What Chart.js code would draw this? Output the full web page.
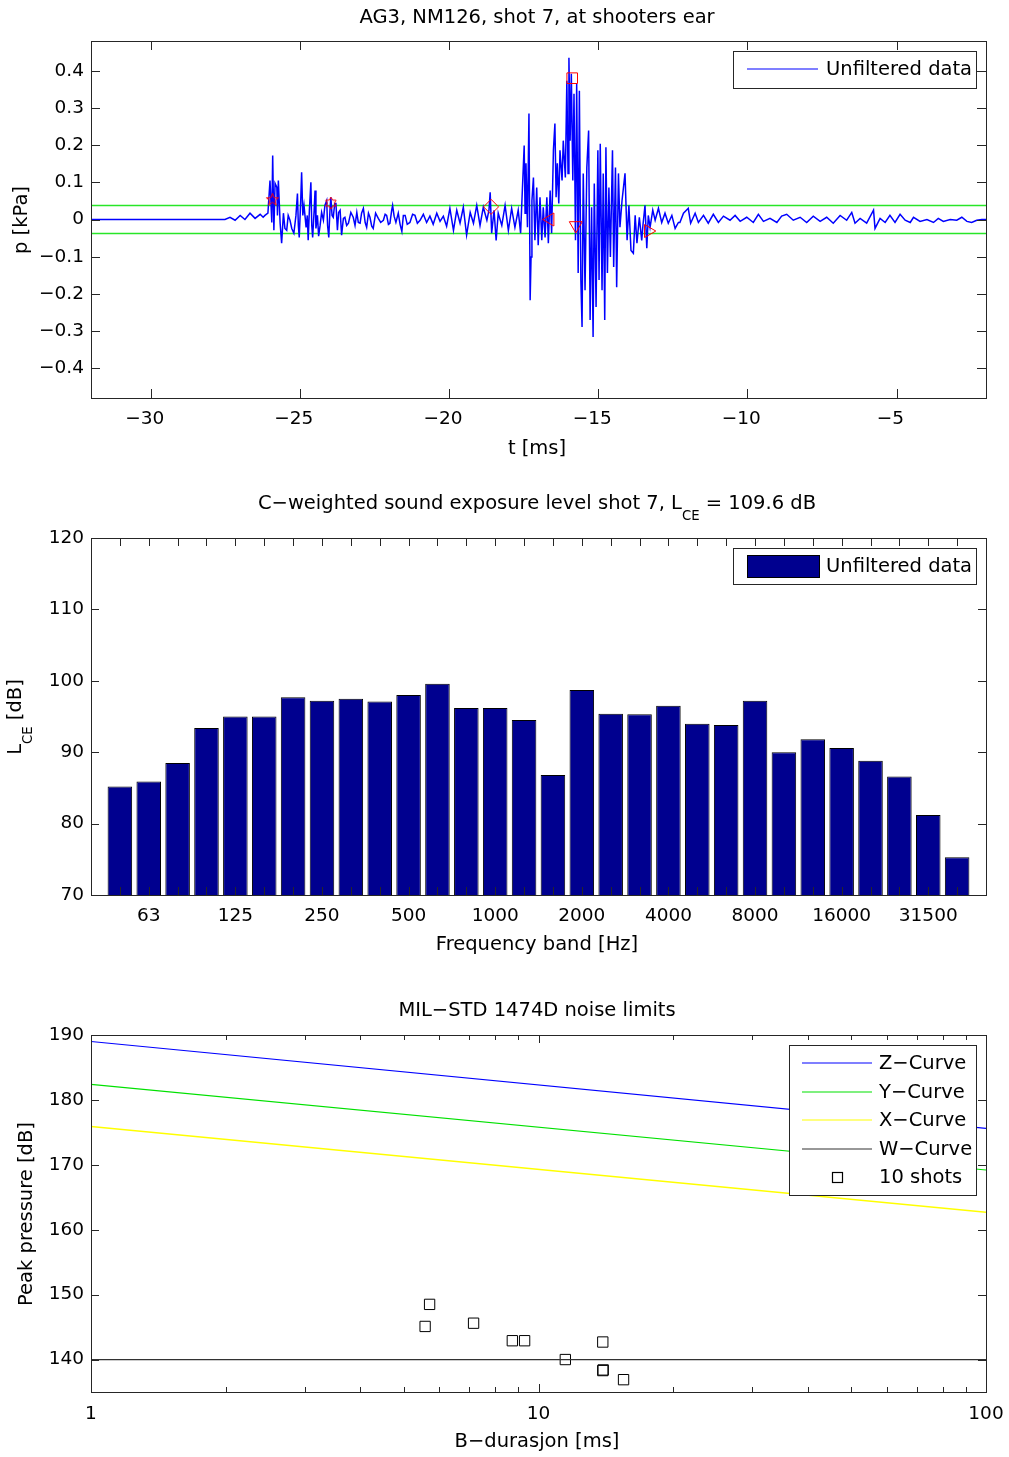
<!DOCTYPE html>
<html>
<head>
<meta charset="utf-8">
<script src="https://cdn.jsdelivr.net/npm/chart.js@4.4.1/dist/chart.umd.min.js"></script>
<style>
  html, body { margin: 0; padding: 0; background: #fff; }
  #page { position: relative; width: 1009px; height: 1457px; }
  #page canvas { position: absolute; left: 0; }
</style>
</head>
<body>
<div id="page">
  <canvas id="wave" width="1009" height="475" style="top:0px"></canvas>
  <canvas id="spectrum" width="1009" height="490" style="top:475px"></canvas>
  <canvas id="limits" width="1009" height="492" style="top:965px"></canvas>
</div>
<script>
// ---------- top panel: pressure at the shooter's ear ----------
const timeMs = [
  -32.00, -27.51, -27.34, -27.17, -27.00, -26.84, -26.67, -26.50, -26.33, -26.23, -26.17, -26.07,
  -26.00, -25.94, -25.91, -25.87, -25.83, -25.77, -25.75, -25.72, -25.66, -25.61, -25.55, -25.50,
  -25.44, -25.39, -25.33, -25.27, -25.20, -25.13, -25.08, -25.05, -25.02, -24.97, -24.94, -24.90,
  -24.86, -24.79, -24.75, -24.72, -24.68, -24.63, -24.60, -24.57, -24.52, -24.49, -24.46, -24.41,
  -24.37, -24.32, -24.27, -24.21, -24.16, -24.10, -24.07, -24.03, -23.99, -23.96, -23.92, -23.88,
  -23.83, -23.79, -23.74, -23.70, -23.65, -23.60, -23.54, -23.49, -23.43, -23.37, -23.29, -23.21,
  -23.15, -23.09, -23.04, -22.98, -22.93, -22.87, -22.81, -22.76, -22.70, -22.65, -22.59, -22.54,
  -22.46, -22.37, -22.29, -22.20, -22.14, -22.09, -22.03, -21.98, -21.92, -21.89, -21.84, -21.78,
  -21.70, -21.64, -21.58, -21.53, -21.47, -21.40, -21.31, -21.22, -21.14, -21.06, -20.97, -20.86,
  -20.75, -20.64, -20.53, -20.41, -20.30, -20.19, -20.08, -19.97, -19.85, -19.74, -19.63, -19.52,
  -19.41, -19.29, -19.18, -19.07, -18.96, -18.85, -18.73, -18.66, -18.62, -18.57, -18.49, -18.42,
  -18.35, -18.23, -18.12, -18.01, -17.90, -17.79, -17.68, -17.60, -17.48, -17.45, -17.42, -17.37,
  -17.32, -17.28, -17.25, -17.22, -17.17, -17.12, -17.06, -17.01, -16.95, -16.89, -16.84, -16.78,
  -16.72, -16.67, -16.61, -16.56, -16.50, -16.45, -16.41, -16.37, -16.32, -16.28, -16.21, -16.17,
  -16.10, -16.05, -16.01, -15.98, -15.94, -15.90, -15.85, -15.81, -15.76, -15.72, -15.67, -15.63,
  -15.58, -15.54, -15.50, -15.44, -15.38, -15.32, -15.27, -15.22, -15.17, -15.13, -15.07, -15.01,
  -14.97, -14.93, -14.87, -14.83, -14.78, -14.74, -14.69, -14.64, -14.59, -14.52, -14.48, -14.42,
  -14.38, -14.32, -14.27, -14.20, -14.10, -14.03, -13.97, -13.90, -13.82, -13.76, -13.70, -13.62,
  -13.54, -13.50, -13.43, -13.37, -13.32, -13.26, -13.17, -13.09, -12.98, -12.87, -12.76, -12.65,
  -12.53, -12.42, -12.31, -12.26, -12.14, -11.98, -11.90, -11.75, -11.64, -11.47, -11.31, -11.14,
  -10.97, -10.80, -10.58, -10.41, -10.24, -10.02, -9.80, -9.63, -9.46, -9.24, -9.01, -8.85,
  -8.68, -8.46, -8.23, -8.01, -7.79, -7.56, -7.34, -7.12, -6.89, -6.67, -6.50, -6.39,
  -6.22, -6.00, -5.77, -5.72, -5.55, -5.38, -5.22, -5.05, -4.88, -4.71, -4.54, -4.43,
  -4.21, -3.98, -3.76, -3.60, -3.43, -3.20, -2.98, -2.81, -2.64, -2.48, -2.31, -2.14, -2.00
]
const pressureKPa = [
  0, 0, 0.006, -0.002, 0.011, 0, 0.017, 0.003, 0.014, 0.006, 0.011, 0.017,
  0.105, -0.008, 0.172, -0.029, 0.097, 0.086, 0.011, 0.105, -0.010, -0.064, 0.017, -0.024,
  -0.029, 0.011, -0.002, -0.024, -0.037, 0.011, 0.070, -0.016, -0.048, 0.051, 0.127, 0.011,
  0.038, -0.021, 0.011, -0.056, 0.025, 0.100, -0.016, -0.048, 0.025, 0.078, -0.024, 0.011,
  -0.045, -0.016, 0.019, -0.002, 0.038, 0.051, -0.016, -0.048, 0.025, 0.060, 0.011, 0.006,
  0.043, 0.043, -0.029, 0.019, 0.025, -0.042, 0.003, 0.006, -0.016, -0.010, 0.019, 0.006,
  -0.016, 0.019, -0.008, -0.010, 0.017, 0.030, -0.008, -0.021, 0.017, 0.006, -0.018, -0.024,
  0.017, 0.003, -0.008, -0.002, 0.014, 0.011, -0.013, -0.010, 0.025, 0.038, 0.009, -0.008,
  0.017, -0.013, -0.032, 0.011, 0.011, -0.013, -0.008, 0.014, 0.011, -0.010, -0.002, 0.014,
  -0.008, 0.009, -0.013, 0.017, -0.005, 0.009, -0.018, 0.030, -0.029, 0.025, -0.010, 0.033,
  -0.042, 0.019, -0.010, 0.038, -0.016, 0.033, -0.002, 0.025, 0.073, -0.037, 0.025, -0.056,
  0.017, -0.016, 0.038, -0.029, 0.030, -0.021, 0.025, -0.037, 0.199, 0.017, 0.151, -0.021,
  0.285, -0.217, -0.101, 0.051, 0.113, -0.056, 0.086, -0.069, 0.060, -0.056, 0.033, -0.048,
  0.060, -0.064, 0.078, -0.037, 0.186, 0.258, 0.060, 0.151, 0.043, 0.186, 0.105, 0.212,
  0.113, 0.373, 0.124, 0.435, 0.212, 0.392, 0.105, 0.338, -0.056, 0.365, -0.144, 0.346,
  -0.163, -0.289, 0.124, -0.190, 0.140, 0.239, -0.270, 0.033, -0.316, 0.097, -0.235, 0.186,
  -0.163, 0.204, -0.190, 0.124, -0.270, 0.194, -0.144, 0.086, -0.101, 0.186, -0.128, 0.140,
  -0.182, 0.124, -0.021, 0.051, 0.124, -0.056, 0.038, -0.083, -0.091, 0.011, -0.064, 0.006,
  -0.056, -0.016, 0.038, -0.077, 0.011, -0.021, 0.025, -0.002, 0.030, -0.008, 0.017, -0.010,
  0.011, -0.024, -0.008, -0.008, 0.017, 0.030, -0.010, 0.017, -0.008, 0.011, -0.010, 0.014,
  -0.008, 0.009, -0.002, 0.011, -0.005, 0.006, -0.008, 0.014, -0.005, 0.003, -0.008, 0.009,
  0.014, -0.002, 0.006, -0.008, 0.009, -0.005, 0.006, -0.010, 0.011, -0.002, 0.019, -0.010,
  0.003, -0.010, 0.025, -0.024, 0.003, -0.008, 0.011, -0.008, 0.014, -0.002, -0.008, 0.006,
  -0.005, 0, -0.008, 0.003, -0.005, 0, -0.002, 0.006, -0.005, -0.008, -0.002, 0, 0
]
const thresholdKPa = 0.0375
const timeRange = [-32, -2]
const eventTimes = [-25.92, -23.96, -18.59, -16.61, -15.75, -15.87, -13.32]
const eventValues = [0.053, 0.044, 0.034, 0.0, -0.016, 0.380, -0.031]
const eventShapes = ["pentagram", "hexagram", "rectRot", "triangle", "triangle", "rect", "triangle"]
const eventRotation = [0, 0, 0, -90, 180, 0, 90]
const timeTicks = [-30, -25, -20, -15, -10, -5]
const pressureTicks = [-0.4, -0.3, -0.2, -0.1, 0, 0.1, 0.2, 0.3, 0.4]

// ---------- middle panel: third-octave band levels ----------
const bands = ["50", "63", "80", "100", "125", "160", "200", "250", "315", "400",
  "500", "630", "800", "1000", "1250", "1600", "2000", "2500", "3150", "4000",
  "5000", "6300", "8000", "10000", "12500", "16000", "20000", "25000", "31500", "40000"]
const bandLevels = [85.2, 85.9, 88.5, 93.4, 95.0, 95.0, 97.7, 97.2, 97.5, 97.1,
  98.0, 99.6, 96.2, 96.2, 94.5, 86.8, 98.7, 95.4, 95.3, 96.5,
  94.0, 93.8, 97.2, 90.0, 91.8, 90.6, 88.8, 86.6, 81.2, 75.3]
const bandLabelsShown = ["63", "125", "250", "500", "1000", "2000", "4000", "8000", "16000", "31500"]
const levelTicks = [70, 80, 90, 100, 110, 120]

// ---------- bottom panel: MIL-STD 1474D limits ----------
const durationRange = [1, 100]
const zCurve = [189.0, 175.6]
const yCurve = [182.4, 169.2]
const xCurve = [175.9, 162.7]
const wCurve = [140, 140]
const shotDurations = [5.71, 5.58, 7.16, 8.74, 9.31, 11.48, 13.92, 13.92, 13.95, 15.49]
const shotPeaks = [148.5, 145.1, 145.6, 142.9, 142.9, 140.0, 142.7, 138.3, 138.4, 136.9]
const durationTicks = [1, 2, 3, 4, 5, 6, 7, 8, 9, 10, 20, 30, 40, 50, 60, 70, 80, 90, 100]
const durationLabels = [1, 10, 100]
const peakTicks = [140, 150, 160, 170, 180, 190]

// ---------- shared look ----------
const FONT = "'DejaVu Sans', sans-serif"
const TICK_SIZE = 18.5
const TEXT_SIZE = 19.5
const FRAME = "#262626"

Chart.defaults.font.family = FONT
Chart.defaults.color = "#000"
Chart.defaults.animation = false

const minusSign = (s) => String(s).replace("-", "\u2212")

// MATLAB style box with inward ticks on all four sides
const axesBox = {
  id: "axesBox",
  afterDatasetsDraw(chart, args, opts) {
    const { ctx, chartArea: a, scales } = chart
    ctx.save()
    ctx.strokeStyle = FRAME
    ctx.lineWidth = 1
    ctx.beginPath()
    scales.x.ticks.forEach((t) => {
      const len = t.major === false ? opts.minorLen : opts.len
      const px = Math.round(scales.x.getPixelForValue(t.value)) + 0.5
      ctx.moveTo(px, a.bottom)
      ctx.lineTo(px, a.bottom - len)
      ctx.moveTo(px, a.top)
      ctx.lineTo(px, a.top + len)
    })
    scales.y.ticks.forEach((t) => {
      const py = Math.round(scales.y.getPixelForValue(t.value)) + 0.5
      ctx.moveTo(a.left, py)
      ctx.lineTo(a.left + opts.len, py)
      ctx.moveTo(a.right, py)
      ctx.lineTo(a.right - opts.len, py)
    })
    ctx.stroke()
    ctx.strokeRect(Math.round(a.left) + 0.5, Math.round(a.top) + 0.5, Math.round(a.width), Math.round(a.height))
    ctx.restore()
  },
}

// titles and axis labels, with optional subscripts
function drawParts(ctx, parts, x, y, rotate) {
  const subSize = TEXT_SIZE * 0.68
  ctx.save()
  ctx.translate(x, y)
  if (rotate) ctx.rotate(-Math.PI / 2)
  let total = 0
  parts.forEach(([t, sub]) => {
    ctx.font = `${sub ? subSize : TEXT_SIZE}px ${FONT}`
    total += ctx.measureText(t).width
  })
  let cx = -total / 2
  ctx.textBaseline = "middle"
  ctx.fillStyle = "#000"
  parts.forEach(([t, sub]) => {
    ctx.font = `${sub ? subSize : TEXT_SIZE}px ${FONT}`
    ctx.fillText(t, cx, sub ? TEXT_SIZE * 0.62 : 0)
    cx += ctx.measureText(t).width
  })
  ctx.restore()
}

const panelText = {
  id: "panelText",
  afterDraw(chart, args, opts) {
    opts.items.forEach((it) => drawParts(chart.ctx, it.parts, it.x, it.y, it.rotate))
  },
}

// legend box placed inside the axes, like MATLAB's NorthEast legend
const boxLegend = {
  id: "boxLegend",
  afterDraw(chart, args, o) {
    const ctx = chart.ctx
    const items = chart.data.datasets.filter((d) => d.label)
    ctx.save()
    ctx.fillStyle = "#fff"
    ctx.fillRect(o.left, o.top, o.width, o.height)
    ctx.strokeStyle = FRAME
    ctx.lineWidth = 1
    ctx.strokeRect(o.left + 0.5, o.top + 0.5, o.width, o.height)
    ctx.font = `${TEXT_SIZE}px ${FONT}`
    ctx.textBaseline = "middle"
    items.forEach((d, i) => {
      const y = Math.round(o.firstRow + i * o.rowGap)
      if (o.swatch) {
        ctx.fillStyle = d.backgroundColor
        ctx.fillRect(o.sampleFrom, y - o.swatch / 2, o.sampleTo - o.sampleFrom, o.swatch)
        ctx.strokeStyle = "#000"
        ctx.strokeRect(o.sampleFrom + 0.5, y - o.swatch / 2 + 0.5, o.sampleTo - o.sampleFrom, o.swatch)
      } else if (d.showLine === false) {
        const cx = Math.round((o.sampleFrom + o.sampleTo) / 2) + 0.5
        ctx.strokeStyle = d.pointBorderColor
        ctx.strokeRect(cx - 5, y - 4.5, 10, 10)
      } else {
        ctx.strokeStyle = d.borderColor
        ctx.lineWidth = 1.2
        ctx.beginPath()
        ctx.moveTo(o.sampleFrom, y)
        ctx.lineTo(o.sampleTo, y)
        ctx.stroke()
      }
      ctx.fillStyle = "#000"
      ctx.fillText(d.label, o.textX, y + 1)
    })
    ctx.restore()
  },
}

function starMarker(points, inner, size) {
  const c = document.createElement("canvas")
  c.width = c.height = size
  const g = c.getContext("2d")
  const r = size / 2 - 1
  g.strokeStyle = "rgb(255,0,0)"
  g.lineWidth = 1
  g.beginPath()
  for (let k = 0; k < points * 2; k++) {
    const rad = k % 2 ? r * inner : r
    const ang = -Math.PI / 2 + (k * Math.PI) / points
    const px = size / 2 + rad * Math.cos(ang)
    const py = size / 2 + rad * Math.sin(ang)
    if (k) g.lineTo(px, py)
    else g.moveTo(px, py)
  }
  g.closePath()
  g.stroke()
  return c
}

const markerImages = { pentagram: starMarker(5, 0.4, 15), hexagram: starMarker(6, 0.58, 14) }

function tickScale(values, labelFn, padding, size, labelOffset = 0) {
  return {
    afterBuildTicks: (s) => { s.ticks = values.map((v) => ({ value: v, major: true })) },
    grid: { display: false, drawTicks: false },
    border: { display: false },
    ticks: {
      font: { size: TICK_SIZE }, color: "#000", padding: padding, labelOffset: labelOffset,
      autoSkip: false, maxRotation: 0, callback: labelFn,
    },
    afterFit: (s) => {
      if (s.isHorizontal()) {
        s.height = size
        s.paddingLeft = 0
        s.paddingRight = 0
      } else {
        s.width = size
        s.paddingTop = 0
        s.paddingBottom = 0
      }
    },
  }
}

// ---------- chart 1 ----------
new Chart(document.getElementById("wave"), {
  type: "scatter",
  data: {
    datasets: [
      {
        label: "Unfiltered data",
        data: timeMs.map((t, i) => ({ x: t, y: pressureKPa[i] })),
        showLine: true,
        borderColor: "rgb(0,0,255)",
        borderWidth: 1.5,
        pointRadius: 0,
      },
      {
        data: timeRange.map((t) => ({ x: t, y: thresholdKPa })),
        showLine: true,
        borderColor: "rgb(40,230,40)",
        borderWidth: 1.5,
        pointRadius: 0,
      },
      {
        data: timeRange.map((t) => ({ x: t, y: -thresholdKPa })),
        showLine: true,
        borderColor: "rgb(40,230,40)",
        borderWidth: 1.5,
        pointRadius: 0,
      },
      {
        data: eventTimes.map((t, i) => ({ x: t, y: eventValues[i] })),
        showLine: false,
        pointStyle: eventShapes.map((s) => markerImages[s] || s),
        pointRotation: eventRotation,
        pointRadius: 7.5,
        pointBorderColor: "rgb(255,0,0)",
        pointBackgroundColor: "rgba(0,0,0,0)",
        pointBorderWidth: 1,
        order: -1,
      },
    ],
  },
  options: {
    responsive: false,
    layout: { padding: { top: 41, right: 23, left: 0, bottom: 0 } },
    plugins: {
      legend: { display: false },
      tooltip: { enabled: false },
      axesBox: { len: 9, minorLen: 5 },
      boxLegend: { left: 733, top: 51, width: 243, height: 37, firstRow: 69, rowGap: 0, sampleFrom: 747, sampleTo: 818, textX: 826 },
      panelText: {
        items: [
          { parts: [["AG3, NM126, shot 7, at shooters ear"]], x: 537, y: 18 },
          { parts: [["t [ms]"]], x: 537, y: 449 },
          { parts: [["p [kPa]"]], x: 22, y: 220, rotate: true },
        ],
      },
    },
    scales: {
      x: { type: "linear", min: timeRange[0], max: timeRange[1], ...tickScale(timeTicks, (v) => minusSign(v), 10, 77, -6) },
      y: { type: "linear", min: -0.48, max: 0.48, ...tickScale(pressureTicks, (v) => (v === 0 ? "0" : minusSign(v.toFixed(1))), 7, 91) },
    },
  },
  plugins: [axesBox, boxLegend, panelText],
})

// ---------- chart 2 ----------
new Chart(document.getElementById("spectrum"), {
  type: "bar",
  data: {
    datasets: [
      {
        label: "Unfiltered data",
        data: bands.map((b, i) => ({ x: i + 1, y: bandLevels[i] })),
        backgroundColor: "rgb(0,0,143)",
        borderColor: "#000",
        borderWidth: 1,
        borderSkipped: "start",
        barPercentage: 0.85,
        categoryPercentage: 1,
      },
    ],
  },
  options: {
    responsive: false,
    layout: { padding: { top: 63, right: 23, left: 0, bottom: 0 } },
    plugins: {
      legend: { display: false },
      tooltip: { enabled: false },
      axesBox: { len: 8, minorLen: 8 },
      boxLegend: { left: 733, top: 73, width: 243, height: 36, firstRow: 91, rowGap: 0, sampleFrom: 747, sampleTo: 819, textX: 826, swatch: 22 },
      panelText: {
        items: [
          { parts: [["C\u2212weighted sound exposure level shot 7, L"], ["CE", true], [" = 109.6 dB"]], x: 537, y: 29 },
          { parts: [["Frequency band [Hz]"]], x: 537, y: 470 },
          { parts: [["L"], ["CE", true], [" [dB]"]], x: 16, y: 242, rotate: true },
        ],
      },
    },
    scales: {
      x: {
        type: "linear", min: 0, max: bands.length + 1, offset: false,
        ...tickScale(bands.map((b, i) => i + 1), (v) => (bandLabelsShown.includes(bands[v - 1]) ? bands[v - 1] : ""), 10, 70),
      },
      y: { type: "linear", min: 70, max: 120, ...tickScale(levelTicks, (v) => String(v), 7, 91) },
    },
  },
  plugins: [axesBox, boxLegend, panelText],
})

// ---------- chart 3 ----------
const curve = (label, values, color, width) => ({
  label: label,
  data: durationRange.map((d, i) => ({ x: d, y: values[i] })),
  showLine: true,
  borderColor: color,
  borderWidth: width,
  pointRadius: 0,
})

new Chart(document.getElementById("limits"), {
  type: "scatter",
  data: {
    datasets: [
      curve("Z\u2212Curve", zCurve, "rgb(0,0,255)", 1.2),
      curve("Y\u2212Curve", yCurve, "rgb(0,225,0)", 1.2),
      curve("X\u2212Curve", xCurve, "rgb(255,255,0)", 1.4),
      curve("W\u2212Curve", wCurve, "rgb(50,50,50)", 1.2),
      {
        label: "10 shots",
        data: shotDurations.map((d, i) => ({ x: d, y: shotPeaks[i] })),
        showLine: false,
        pointStyle: "rect",
        pointRadius: 7.3,
        pointBorderColor: "#000",
        pointBackgroundColor: "rgba(0,0,0,0)",
        pointBorderWidth: 1,
      },
    ],
  },
  options: {
    responsive: false,
    layout: { padding: { top: 70, right: 23, left: 0, bottom: 0 } },
    plugins: {
      legend: { display: false },
      tooltip: { enabled: false },
      axesBox: { len: 8, minorLen: 5 },
      boxLegend: { left: 789, top: 80, width: 187, height: 150, firstRow: 98, rowGap: 28.5, sampleFrom: 802, sampleTo: 872, textX: 879 },
      panelText: {
        items: [
          { parts: [["MIL\u2212STD 1474D noise limits"]], x: 537, y: 46 },
          { parts: [["B\u2212durasjon [ms]"]], x: 537, y: 477 },
          { parts: [["Peak pressure [dB]"]], x: 27, y: 249, rotate: true },
        ],
      },
    },
    scales: {
      x: {
        type: "logarithmic", min: durationRange[0], max: durationRange[1],
        ...tickScale(durationTicks, (v) => (durationLabels.includes(v) ? String(v) : ""), 11, 65),
        afterBuildTicks: (s) => { s.ticks = durationTicks.map((v) => ({ value: v, major: durationLabels.includes(v) })) },
      },
      y: { type: "linear", min: 135, max: 190, ...tickScale(peakTicks, (v) => String(v), 7, 91) },
    },
  },
  plugins: [axesBox, boxLegend, panelText],
})
</script>
</body>
</html>
